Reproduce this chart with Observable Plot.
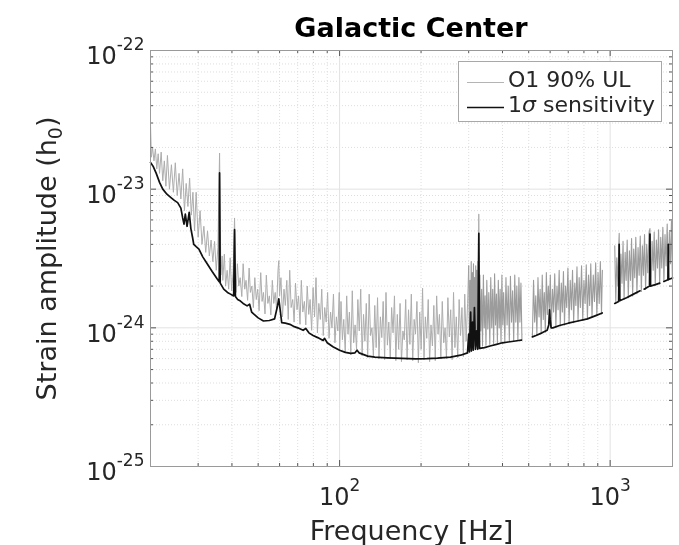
<!DOCTYPE html>
<html>
<head>
<meta charset="utf-8">
<script src="https://cdn.jsdelivr.net/npm/d3@7"></script>
<script src="https://cdn.jsdelivr.net/npm/@observablehq/plot@0.6"></script>
<style>
  html, body { margin: 0; padding: 0; background: #fff; }
  #wrap { position: relative; width: 679px; height: 545px; overflow: hidden; background: #fff;
          font-family: "DejaVu Sans", sans-serif; color: #262626; filter: blur(0.4px); }
  #title { position: absolute; left: 150px; width: 522px; top: 14px; line-height: 27px;
           font-size: 27px; font-weight: bold; text-align: center; color: #000; }
  #chart { position: absolute; left: 0; top: 38px; }
  #legend { position: absolute; left: 458px; top: 61px; width: 202px; height: 59px;
            border: 1px solid #a8a8a8; background: #fff; font-size: 22px; }
  #legend .row { position: absolute; left: 49px; line-height: 22px; white-space: nowrap; }
</style>
</head>
<body>
<div id="wrap">
  <div id="chart"></div>
  <div id="title">Galactic Center</div>
  <div id="legend">
    <svg width="202" height="59" style="position:absolute;left:0;top:0">
      <line x1="8" x2="45" y1="20.5" y2="20.5" stroke="#b4b4b4" stroke-width="1"></line>
      <line x1="8" x2="45" y1="45.5" y2="45.5" stroke="#111" stroke-width="1.7"></line>
    </svg>
    <div class="row" style="top:7px">O1 90% UL</div>
    <div class="row" style="top:32px">1<i>σ</i> sensitivity</div>
  </div>
</div>
<script>
// ---------------- data (frequency in Hz, strain in units of 1e-24) ----------------
// 1-sigma sensitivity (black), split where the curve has gaps
const sensA = [[20.0,15.6],[20.5,14.5],[21.0,13.0],[21.6,11.2],[22.2,10.0],[23.0,9.2],[23.8,8.7],[24.5,8.3],
  [25.2,8.0],[25.9,7.3],[26.3,6.2],[26.6,5.6],[26.9,6.6],[27.3,5.4],[27.8,6.8],[28.2,5.2],[28.6,4.5],[28.9,4.0],
  [29.5,3.85],[30.2,3.7],[31.2,3.25],[32.4,2.9],[33.8,2.55],[35.3,2.25],[35.9,2.15],[36.0,13.1],[36.2,2.1],
  [37.3,1.9],[38.5,1.8],[39.5,1.75],[40.6,1.7],[40.9,5.1],[41.2,1.68],[42.0,1.6],[43.0,1.56],[44.0,1.5],
  [45.5,1.44],[46.5,1.48],[47.3,1.3],[48.1,1.26],[50.0,1.18],[52.3,1.12],[55.0,1.13],[57.5,1.16],[59.0,1.45],
  [59.6,1.62],[60.3,1.35],[61.1,1.09],[63.0,1.08],[65.5,1.06],[68.0,1.02],[70.0,1.0],[73.3,0.96],[75.0,0.99],
  [77.0,0.92],[79.8,0.88],[83.0,0.85],[86.9,0.81],[88.0,0.84],[90.0,0.78],[94.5,0.73],[100,0.69],[105,0.665],
  [110,0.655],[114,0.66],[116,0.69],[118,0.66],[127,0.625],[135,0.615],[150,0.608],[170,0.602],[191,0.598],
  [210,0.6],[230,0.605],[257,0.615],[280,0.635],[297,0.66],[300,0.9],[302,0.67],[305,1.3],[307,0.68],[310,1.1],
  [312,0.69],[315,1.4],[318,0.7],[321,0.95],[324,0.7],[327,4.8],[329,0.71],[343,0.72],[360,0.74],[380,0.76],
  [400,0.78],[420,0.79],[440,0.8],[459,0.81],[470,0.815]];
const sensB = [[516,0.86],[532,0.88],[560,0.92],[585,0.96],[593,1.05],[597,1.35],[600,1.15],[605,1.0],[614,1.0],
  [650,1.04],[700,1.08],[760,1.12],[824,1.16],[880,1.22],[935,1.28]];
const sensC = [[1040,1.5],[1075,1.55],[1080,4.0],[1085,1.57],[1150,1.65],[1220,1.75],[1290,1.85]];
const sensD = [[1335,1.9],[1398,2.0],[1403,4.75],[1408,2.0],[1470,2.05],[1525,2.1]];
const sensE = [[1580,2.16],[1635,2.22],[1640,4.0],[1645,2.23],[1700,2.29]];

// O1 90% upper limit (grey), split by frequency band
const ulA = [[20,29],[20.15,17],[20.35,20],[20.6,16],[20.85,19.5],[21.1,14],[21.35,18],[21.6,13],[21.9,18.5],
  [22.2,11.5],[22.5,16],[22.8,10.5],[23.1,17.5],[23.5,10],[23.9,15],[24.3,9.5],[24.7,15.5],[25.1,9],[25.5,13],
  [25.9,8.5],[26.3,14],[26.7,7],[27.1,11],[27.5,7.5],[27.9,12],[28.3,6.5],[28.7,9.5],[29.1,5],[29.5,9.5],
  [30.0,4.5],[30.5,7.0],[31.0,4],[31.5,5.4],[32.0,3.5],[32.5,5.0],[33.0,3.3],[33.5,4.3],[34.0,3.0],[34.5,4.2],
  [35.0,2.6],[35.5,3.8],[36.0,18.2],[36.4,2.4],[36.8,3.3]];
const ulB = [[37.0,2.2],[37.5,3.4],[37.9,2.0],[38.4,2.6],[38.9,1.9],[39.4,3.2],[39.9,1.85],[40.4,2.5],[40.9,6.2],
  [41.4,1.8],[41.9,2.9],[42.4,2.0],[42.9,2.3],[43.5,1.68],[44.0,2.9],[44.6,1.9],[45.1,2.2],[45.7,1.58],[46.3,2.7],
  [46.8,1.8],[47.4,2.0],[48.0,1.4],[48.6,2.3],[49.2,1.6],[49.8,1.9],[50.4,1.33],[51.1,2.5],[51.7,1.55],[52.3,1.8],
  [53.0,1.26],[53.6,2.4],[54.3,1.5],[55.0,1.7],[55.7,1.24],[56.4,2.2],[57.1,1.5],[57.8,1.8],[58.5,1.35],
  [59.2,2.6],[59.6,3.05],[60.0,1.7],[60.7,2.3],[61.5,1.2],[62.3,1.9],[63.0,1.45],[63.8,2.2],[64.6,1.15],[65.4,2.6],
  [66.2,1.4],[67.1,1.6],[67.9,1.1],[68.7,2.1],[69.6,1.35],[70.5,1.7],[71.4,1.06],[72.2,2.2],[73.1,1.3],
  [74.1,1.55],[75.0,1.05],[75.9,2.0],[76.9,1.25],[77.8,1.6],[78.8,0.96],[79.8,1.95],[80.8,1.2],[81.8,2.3],
  [82.8,0.92],[83.8,1.5],[84.9,1.15],[85.9,1.9],[87.0,0.88],[88.1,1.4],[89.2,1.1],[90.3,1.8],[91.4,0.84],
  [92.6,1.3],[93.7,1.0],[94.9,1.75],[96.1,0.78],[97.3,1.2],[98.5,0.95],[99.7,1.8]];
const ulC = [[100.0,0.68],[101.2,1.55],[102.4,0.82],[103.6,1.15],[104.9,0.66],[106.2,1.7],[107.4,0.9],[108.7,1.3],
  [110.0,0.64],[111.4,1.85],[112.7,0.78],[114.1,1.05],[115.5,0.7],[116.8,1.6],[118.2,0.95],[119.7,1.9],
  [121.1,0.63],[122.6,1.25],[124.0,0.8],[125.5,1.5],[127.0,0.61],[128.6,1.75],[130.1,0.88],[131.7,1.0],
  [133.3,0.62],[134.9,1.45],[136.5,0.72],[138.1,1.65],[139.8,0.6],[141.5,1.2],[143.2,0.85],[144.9,1.55],
  [146.7,0.59],[148.4,1.8],[150.2,0.75],[152.0,1.1],[153.9,0.6],[155.7,1.4],[157.6,0.92],[159.5,1.7],[161.4,0.58],
  [163.4,1.25],[165.3,0.7],[167.3,1.5],[169.3,0.57],[171.4,0.95],[173.4,0.82],[175.5,1.6],[177.6,0.59],
  [179.8,1.35],[181.9,0.76],[184.1,1.75],[186.3,0.58],[188.6,1.15],[190.8,0.9],[193.1,1.55],[195.5,0.56],
  [197.8,1.3],[200.2,0.7],[202.6,1.93],[205.1,0.59],[207.5,1.2],[210.0,0.84],[212.6,1.6],[215.1,0.57],[217.7,1.05],
  [220.3,0.74],[223.0,1.45],[225.7,0.58],[228.4,1.7],[231.1,0.9],[233.9,1.25],[236.7,0.6],[239.6,1.55],
  [242.5,0.78],[245.4,1.0],[248.3,0.6],[251.3,1.65],[254.4,0.86],[257.4,1.35],[260.5,0.59],[263.7,1.8],
  [266.8,0.72],[270.0,1.2],[273.3,0.61],[276.6,1.6],[279.9,0.88],[283.3,1.4],[286.7,0.62],[290.1,1.75],
  [293.6,0.8],[297.2,1.5]];
const ulD = [[300,2.8],[302,0.7],[303.5,2.2],[305,0.95],[306.5,3.0],[308,0.72],[309.5,2.5],[311,0.95],[312.5,2.9],
  [314,0.74],[315.5,2.3],[317,1.0],[318.5,2.8],[320,0.73],[321.5,2.6],[323,0.95],[324.5,3.0],[326,0.74],[327,6.6],
  [328,0.74],[330,2.4],[332.5,0.95],[335,1.9],[337.5,0.74],[340,2.4],[342.5,1.0],[345,1.7],[347.5,0.75],[350,2.2],
  [353,0.98],[356,1.8],[359,0.76],[362,2.3],[365,1.0],[368,1.9],[371,0.77],[374,2.45],[377,1.05],[380,1.75],
  [383,0.78],[386,2.2],[389,1.0],[392,1.9],[395,0.78],[398,2.4],[401,1.05],[404,1.8],[408,0.79],[412,2.3],
  [416,1.05],[420,2.0],[424,0.8],[428,2.35],[432,1.1],[436,1.85],[440,0.8],[444,2.4],[448,1.1],[452,2.0],
  [456,0.81],[460,2.3],[464,1.1],[468,2.1],[472,0.82]];
const ulE = [[516,0.87],[521,2.2],[526,1.1],[531,1.7],[536,0.89],[541,2.3],[546,1.2],[551,1.9],[556,0.91],[561,2.4],
  [566,1.15],[571,1.8],[576,0.93],[581,2.5],[586,1.25],[591,2.0],[596,1.35],[601,2.4],[606,1.0],[612,1.9],[618,1.3],
  [624,2.45],[630,1.01],[636,2.0],[642,1.35],[648,2.6],[654,1.03],[660,2.1],[666,1.3],[672,2.55],[678,1.05],
  [684,2.0],[691,1.4],[698,2.7],[705,1.07],[712,2.2],[719,1.35],[726,2.6],[733,1.09],[740,2.1],[747,1.45],
  [754,2.75],[761,1.11],[768,2.3],[776,1.4],[784,2.8],[792,1.13],[800,2.2],[808,1.5],[816,2.85],[824,1.16],
  [832,2.4],[840,1.45],[848,2.9],[857,1.19],[866,2.4],[875,1.55],[884,2.95],[893,1.22],[902,2.5],[911,1.5],
  [920,3.0],[929,1.26],[936,2.6]];
const ulF = [[1040,3.9],[1049,1.52],[1058,3.2],[1068,2.0],[1076,4.0],[1080,4.8],[1086,1.57],[1096,3.4],[1106,2.1],
  [1116,4.2],[1126,1.61],[1136,3.5],[1146,2.2],[1156,4.3],[1167,1.65],[1178,3.6],[1189,2.2],[1200,4.4],
  [1211,1.7],[1222,3.7],[1233,2.3],[1244,4.5],[1256,1.76],[1268,3.8],[1280,2.4],[1292,4.6],[1304,1.83],
  [1316,3.9],[1328,2.4],[1340,4.7],[1352,1.89],[1365,4.0],[1378,2.5],[1391,4.8],[1403,5.2],[1416,2.0],
  [1429,4.2],[1442,2.6],[1455,4.9],[1468,2.03],[1482,4.3],[1496,2.7],[1510,5.1],[1524,2.07],[1538,4.5],
  [1552,2.7],[1566,5.3],[1580,2.15],[1595,4.7],[1610,2.8],[1625,5.6],[1640,2.2],[1655,4.9],[1670,2.9],
  [1685,5.9],[1698,2.27]];

// axes
const xDomain = [20, 1700];
const yDomain = [1e-25, 1e-22];
const xTickValues = [100, 1000];
const yTickValues = [1e-25, 1e-24, 1e-23, 1e-22];
const unit = 1e-24;

// ---------------- build ----------------
const toRows = seg => seg.map(([f, h]) => ({f, h: h * unit}));
const brk = {f: NaN, h: NaN};
const ulLowRows = [...toRows(ulA), ...toRows(ulB), ...toRows(ulC), toRows(ulD)[0]];
const ulHighRows = [...toRows(ulD), brk, ...toRows(ulE), brk, ...toRows(ulF)];
const sensRows = [...toRows(sensA), brk, ...toRows(sensB), brk, ...toRows(sensC), brk, ...toRows(sensD), brk, ...toRows(sensE)];

const W = 679, H = 507, mL = 150, mR = 7, mT = 12, mB = 79;
const frameH = H - mT - mB, frameW = W - mL - mR;

const xAll = d3.scaleLog().domain(xDomain).ticks().filter(v => v >= xDomain[0] && v <= xDomain[1]);
const yAll = d3.scaleLog().domain(yDomain).ticks();
const isMajorX = v => xTickValues.some(t => Math.abs(t - v) / t < 1e-6);
const isMajorY = v => yTickValues.some(t => Math.abs(t - v) / t < 1e-6);
const xMinor = xAll.filter(v => !isMajorX(v)), yMinor = yAll.filter(v => !isMajorY(v));
const fmt = d => "10^" + Math.round(Math.log10(d));
const tickColor = "#555";

const plot = Plot.plot({
  width: W, height: H,
  marginLeft: mL, marginRight: mR, marginTop: mT, marginBottom: mB,
  style: {fontFamily: "DejaVu Sans", fontSize: "24px", color: "#262626", background: "#fff", overflow: "visible"},
  x: {type: "log", domain: xDomain},
  y: {type: "log", domain: yDomain},
  marks: [
    Plot.ruleX(xMinor, {x: d => d, stroke: "#dedede", strokeDasharray: "1,2"}),
    Plot.ruleY(yMinor, {y: d => d, stroke: "#dedede", strokeDasharray: "1,2"}),
    Plot.ruleX(xTickValues, {x: d => d, stroke: "#e2e2e2"}),
    Plot.ruleY(yTickValues, {y: d => d, stroke: "#e2e2e2"}),
    Plot.line(ulLowRows, {x: "f", y: "h", stroke: "#adadad", strokeWidth: 1}),
    Plot.line(ulHighRows, {x: "f", y: "h", stroke: "#9c9c9c", strokeWidth: 1.1}),
    Plot.line(sensRows, {x: "f", y: "h", stroke: "#111", strokeWidth: 1.7}),
    // inward tick marks on all four sides
    Plot.tickX(xMinor, {x: d => d, insetTop: frameH - 3, stroke: tickColor}),
    Plot.tickX(xMinor, {x: d => d, insetBottom: frameH - 3, stroke: tickColor}),
    Plot.tickX(xTickValues, {x: d => d, insetTop: frameH - 6, stroke: tickColor}),
    Plot.tickX(xTickValues, {x: d => d, insetBottom: frameH - 6, stroke: tickColor}),
    Plot.tickY(yMinor, {y: d => d, insetRight: frameW - 3, stroke: tickColor}),
    Plot.tickY(yMinor, {y: d => d, insetLeft: frameW - 3, stroke: tickColor}),
    Plot.tickY(yTickValues, {y: d => d, insetRight: frameW - 6, stroke: tickColor}),
    Plot.tickY(yTickValues, {y: d => d, insetLeft: frameW - 6, stroke: tickColor}),
    Plot.frame({stroke: "#9a9a9a"}),
    Plot.axisX({ticks: xTickValues, anchor: "bottom", tickSize: 0, tickPadding: 21, tickFormat: fmt,
      label: "Frequency [Hz]", labelAnchor: "center", labelOffset: 73, labelArrow: "none"}),
    Plot.axisY({ticks: yTickValues, anchor: "left", tickSize: 0, tickPadding: 6, dy: 6, tickFormat: fmt,
      label: "Strain amplitude (h0)", labelAnchor: "center", labelOffset: 114, labelArrow: "none"})
  ]
});

// superscripts in tick labels, subscript in the y label, larger axis-label font
const svg = d3.select(plot);
svg.selectAll('g[aria-label="x-axis tick label"] text, g[aria-label="y-axis tick label"] text').each(function () {
  const m = this.textContent.match(/^10\^(.+)$/);
  if (!m) return;
  const t = d3.select(this);
  t.text(null);
  t.append("tspan").text("10");
  t.append("tspan").attr("dy", -14).attr("font-size", "17px").text(m[1]);
});
svg.selectAll('g[aria-label="x-axis label"] text, g[aria-label="y-axis label"] text')
  .attr("font-size", "27px")
  .each(function () { this.textContent = this.textContent.replace(/\s*[→↑←↓]\s*/g, ""); });
svg.selectAll('g[aria-label="y-axis label"] text').each(function () {
  const m = this.textContent.match(/^(.*\(h)0(\).*)$/);
  if (!m) return;
  const t = d3.select(this);
  t.text(null);
  t.append("tspan").text(m[1]);
  t.append("tspan").attr("dy", 6).attr("font-size", "19px").text("0");
  t.append("tspan").attr("dy", -6).text(m[2]);
});
document.getElementById("chart").appendChild(plot);
</script>
</body>
</html>
